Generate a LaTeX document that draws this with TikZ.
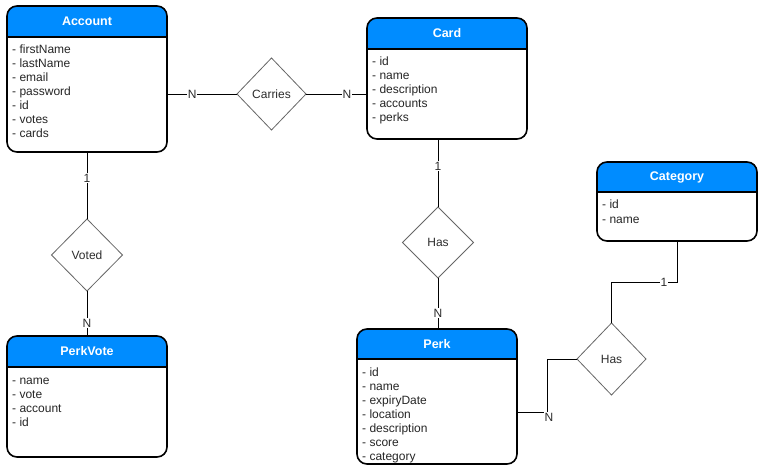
\documentclass[tikz,border=0pt]{standalone}
\usepackage{fontspec}
\setmainfont{Liberation Sans}
\usetikzlibrary{shapes.geometric,calc}
\definecolor{hdr}{RGB}{0,140,255}
\definecolor{txt}{RGB}{45,45,45}
\definecolor{dgray}{RGB}{102,102,102}
\tikzset{
  entbox/.style={draw=black, line width=1.6pt, rounded corners=10pt, inner sep=0pt, outer sep=0pt},
  enttitle/.style={text=white, font=\fontsize{12.5}{15}\selectfont\bfseries, inner sep=0pt},
  attr/.style={anchor=base west, text=black!85, font=\fontsize{12}{14}\selectfont, inner sep=0pt},
  rel/.style={diamond, draw=dgray, line width=0.8pt, inner sep=0pt, outer sep=0pt, text=txt, font=\fontsize{12}{14}\selectfont},
  conn/.style={draw=black, line width=0.9pt},
  lbl/.style={fill=white, text=txt, inner sep=0.8pt, font=\fontsize{12}{14}\selectfont}
}
\newcommand\erentity[8]{%
  \begin{scope}
    \clip[rounded corners=10pt] (#2,#3) rectangle (#4,#5);
    \fill[hdr] (#2,#3) rectangle (#4,#6);
  \end{scope}
  \node[entbox, minimum width={#4-#2}, minimum height={#5-#3}] (#1) at ({(#2+#4)/2},{(#3+#5)/2}) {};
  \draw[line width=1.6pt] (#2,#6) -- (#4,#6);
  \node[enttitle] (#1-t) at ({(#2+#4)/2},{(#3+#6)/2}) {#7};
  \foreach \a [count=\i] in {#8} {
    \node[attr] (#1-a\i) at ({#2+5},{#6+17+14*(\i-1)}) {- \a};
  }
}
\begin{document}
\begin{tikzpicture}[x=1pt,y=-1pt]
\useasboundingbox[fill=white] (0,0) rectangle (762,470);

\erentity{account}{7}{6}{167}{152}{37}{Account}{firstName,lastName,email,password,id,votes,cards}
\erentity{card}{367}{18}{527}{139}{49}{Card}{id,name,description,accounts,perks}
\erentity{category}{597}{162}{757}{241}{192}{Category}{id,name}
\erentity{perk}{357}{329}{517}{464}{359}{Perk}{id,name,expiryDate,location,description,score,category}
\erentity{perkvote}{7}{336}{167}{457}{367}{PerkVote}{name,vote,account,id}

\node[rel, minimum width=69pt, minimum height=72pt] (carries) at (271.5,94) {Carries};
\node[rel, minimum width=71pt, minimum height=72pt] (voted) at (87,255) {Voted};
\node[rel, minimum width=71pt, minimum height=71pt] (has1) at (438,242.5) {Has};
\node[rel, minimum width=69pt, minimum height=72pt] (has2) at (611.5,359) {Has};

% Account - Carries - Card
\draw[conn] (carries.west -| account.east) -- node[lbl, pos=0.36] (lc1) {N} (carries.west);
\draw[conn] (carries.east) -- node[lbl, pos=0.67] (lc2) {N} (carries.east -| card.west);

% Account - Voted - PerkVote
\draw[conn] (voted.north |- account.south) -- node[lbl, pos=0.39] (lv1) {1} (voted.north);
\draw[conn] (voted.south) -- node[lbl, pos=0.71] (lv2) {N} (voted.south |- perkvote.north);

% Card - Has - Perk
\draw[conn] (has1.north |- card.south) -- node[lbl, pos=0.40] (lh1) {1} (has1.north);
\draw[conn] (has1.south) -- node[lbl, pos=0.69] (lh2) {N} (has1.south |- perk.north);

% Category - Has - Perk
\coordinate (catbend) at (677,282);
\draw[conn] (category.south) -- (catbend) -| node[lbl, pos=0.1] (lk1) {1} (has2.north);
\coordinate (perkbend) at (547,412);
\draw[conn] (has2.west) -| (perkbend) -- (perkbend -| perk.east);
\node[lbl] (lk2) at (549,417) {N};
\end{tikzpicture}
\end{document}
